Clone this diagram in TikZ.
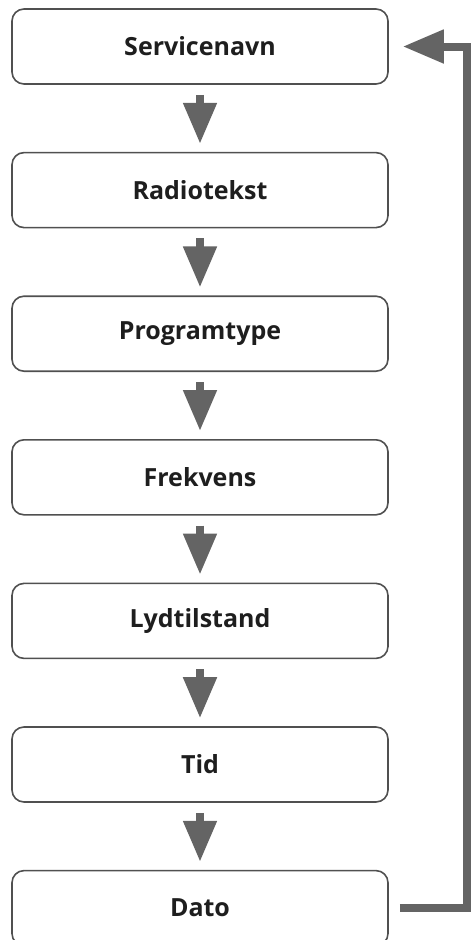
\documentclass[tikz,border=0pt]{standalone}
\usepackage{fontspec}
\setmainfont{Open Sans}
\usetikzlibrary{positioning,arrows.meta}
\definecolor{rdsgray}{HTML}{646464}
\definecolor{rdsline}{HTML}{505050}
\definecolor{rdstext}{HTML}{1E1E1E}

\begin{document}
\begin{tikzpicture}[
    rdsbox/.style={draw=rdsline,line width=1.6pt,rounded corners=12pt,fill=white,
      minimum width=376pt,minimum height=75pt,inner sep=0pt,
      font=\fontsize{25}{30}\selectfont\bfseries,text=rdstext},
    rdsflow/.style={draw=rdsgray,line width=8pt,-{Triangle[length=41pt,width=32pt]}}
  ]
    \useasboundingbox (0,0) rectangle (476pt,-940pt);
    % menupunkter
    \node[rdsbox] (srv) at (200pt,-46.5pt) {Servicenavn};
    \node[rdsbox,below=67pt of srv] (rt) {Radiotekst};
    \node[rdsbox,below=67pt of rt] (pty) {Programtype};
    \node[rdsbox,below=67pt of pty] (frq) {Frekvens};
    \node[rdsbox,below=67pt of frq] (lyd) {Lydtilstand};
    \node[rdsbox,below=67pt of lyd] (tid) {Tid};
    \node[rdsbox,below=67pt of tid] (dato) {Dato};
    % pile nedover
    \foreach \a/\b in {srv/rt,rt/pty,pty/frq,frq/lyd,lyd/tid,tid/dato}
      \draw[rdsflow,shorten <=10pt,shorten >=8pt] (\a) -- (\b);
    % tilbake til start
    \coordinate[right=78pt of dato.east] (ret);
    \draw[rdsflow,shorten <=11pt,shorten >=14pt] (dato.east) -- (ret) |- (srv.east);
  \end{tikzpicture}
\end{document}
